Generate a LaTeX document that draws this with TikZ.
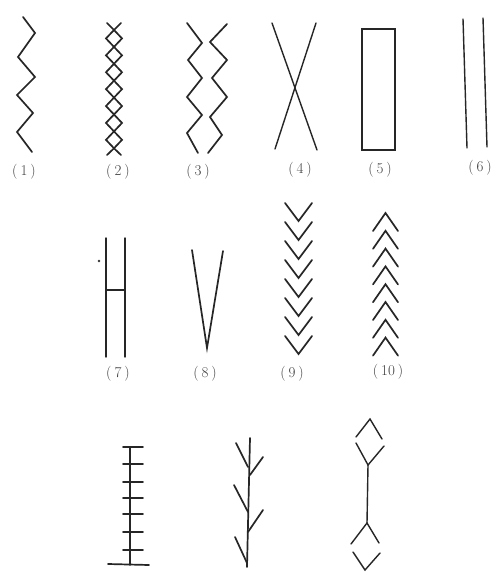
\documentclass[tikz,border=0pt]{standalone}
\begin{document}
\begin{tikzpicture}[x=1pt,y=-1pt,
  ink/.style={draw=black!85, line width=1.7pt, line join=miter, line cap=round},
  inkthin/.style={draw=black!85, line width=1.4pt, line cap=round},
  lab/.style={font=\fontsize{15}{17}\selectfont, text=black!75, inner sep=0pt, anchor=center}]
\useasboundingbox (0,0) rectangle (491,572);
\fill[white] (0,0) rectangle (491,572);

% (1) zigzag
\draw[ink] (23,17) -- (35,33) -- (18,57) -- (35,77) -- (17,95) -- (33,113) -- (17,132) -- (32,152);
\node[lab] (l1) at (24,172) {(\hspace{3pt}1\hspace{3pt})};

% (2) chain of diamonds
\foreach \i in {0,...,6} {
  \pgfmathsetmacro{\ya}{30+16.9*\i}
  \pgfmathsetmacro{\yb}{30+16.9*(\i+1)}
  \pgfmathsetmacro{\ym}{(\ya+\yb)/2}
  \draw[ink] (114,\ya) -- (122,\ym) -- (114,\yb) -- (106,\ym) -- cycle;
}
\draw[ink] (107,23) -- (114,30) -- (121,23);
\draw[ink] (107,155) -- (114,148.3) -- (121,155);
\node[lab] (l2) at (118,172) {(\hspace{3pt}2\hspace{3pt})};

% (3) two zigzags
\draw[ink] (187,23) -- (202,43) -- (188,60) -- (202,78) -- (187,97) -- (202,115) -- (187,133) -- (198,153);
\draw[ink] (227,24) -- (210,42) -- (227,60) -- (212,78) -- (227,97) -- (210,117) -- (222,135) -- (208,153);
\node[lab] (l3) at (198,172) {(\hspace{3pt}3\hspace{3pt})};

% (4) cross
\draw[inkthin] (272,23) -- (317,150);
\draw[inkthin] (316,23) -- (275,149);
\node[lab] (l4) at (300,170) {(\hspace{3pt}4\hspace{3pt})};

% (5) rectangle
\draw[inkthin, line join=miter] (362,29) rectangle (395,150);
\node[lab] (l5) at (380,170) {(\hspace{3pt}5\hspace{3pt})};

% (6) parallel lines
\draw[inkthin] (463,19) -- (467,148);
\draw[inkthin] (483,18) -- (487,147);
\node[lab] (l6) at (480,168) {(\hspace{3pt}6\hspace{3pt})};

% (7) H
\draw[inkthin] (106,238) -- (106,357);
\draw[inkthin] (125,238) -- (125,357);
\draw[inkthin] (106,290) -- (125,290);
\fill[black!80] (99,261) circle (1.3);
\node[lab] (l7) at (118,374) {(\hspace{3pt}7\hspace{3pt})};

% (8) V
\draw[ink] (192,250) -- (207,348) -- (223,251);
\node[lab] (l8) at (205,374) {(\hspace{3pt}8\hspace{3pt})};

% (9) downward chevrons
\foreach \i in {0,...,7} {
  \pgfmathsetmacro{\yt}{203+19*\i}
  \draw[ink] (285,\yt) -- (298.5,\yt+18) -- (312,\yt);
}
\node[lab] (l9) at (292,374) {(\hspace{3pt}9\hspace{3pt})};

% (10) upward chevrons
\foreach \i in {0,...,7} {
  \pgfmathsetmacro{\ya}{213+17.8*\i}
  \draw[ink] (373,\ya+18) -- (385.5,\ya) -- (398,\ya+18);
}
\node[lab] (l10) at (388,372) {(\hspace{3pt}10\hspace{3pt})};

% ladder
\draw[ink] (130,447) -- (130,565);
\foreach \y in {447,464,482,498,514,532,550} {
  \draw[ink] (123,\y) -- (143,\y);
}
\draw[ink] (108,564) -- (149,565);

% branch
\draw[ink] (250,438) -- (247,567);
\draw[ink] (236,443) -- (248,467);
\draw[ink] (263,457) -- (250,475);
\draw[ink] (234,485) -- (248,512);
\draw[ink] (263,510) -- (248,532);
\draw[ink] (235,537) -- (247,563);

% stick with diamonds
\draw[inkthin] (356,437) -- (370,419) -- (382,439);
\draw[inkthin] (356,443) -- (368,465) -- (384,446);
\draw[inkthin] (368,465) -- (367,523);
\draw[inkthin] (351,544) -- (367,523) -- (379,543);
\draw[inkthin] (353,552) -- (365,570) -- (380,553);
\end{tikzpicture}
\end{document}
